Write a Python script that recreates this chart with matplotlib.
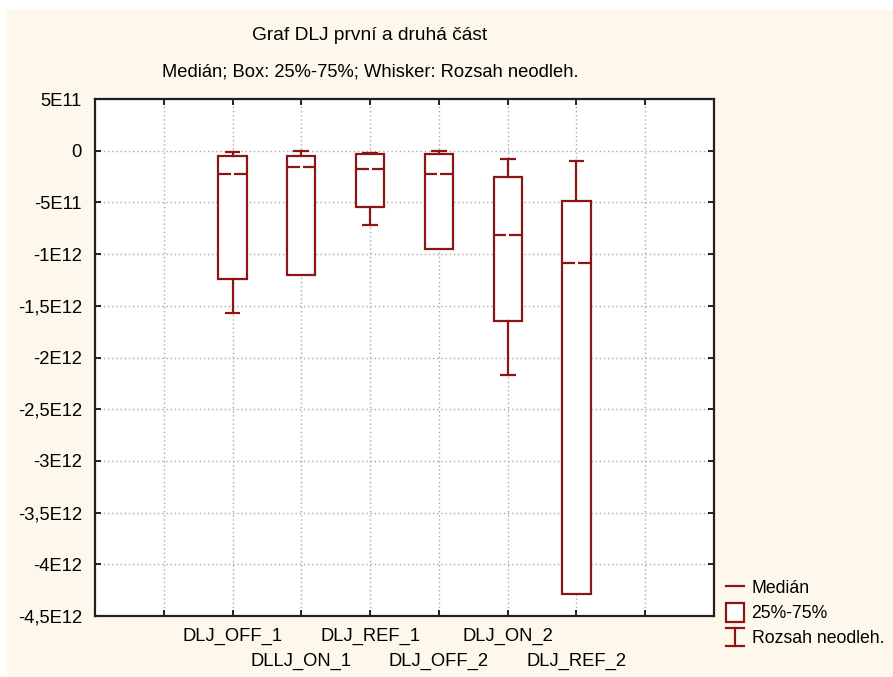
import matplotlib
matplotlib.use("Agg")
import matplotlib.pyplot as plt
from matplotlib.lines import Line2D
from matplotlib.patches import Rectangle
from matplotlib.legend_handler import HandlerBase

plt.rcParams['font.family'] = ['Liberation Sans', 'DejaVu Sans']

# ---- data (values in units of 1E11) ----
categories = ["DLJ_OFF_1", "DLLJ_ON_1", "DLJ_REF_1", "DLJ_OFF_2", "DLJ_ON_2", "DLJ_REF_2"]
whisker_low = [-15.7, -12.0, -7.2, -9.48, -21.7, -42.9]
q1 = [-12.4, -12.0, -5.45, -9.48, -16.5, -42.9]
median = [-2.25, -1.55, -1.74, -2.29, -8.15, -10.86]
q3 = [-0.55, -0.55, -0.36, -0.36, -2.55, -4.84]
whisker_high = [-0.17, 0.0, -0.22, 0.0, -0.8, -0.97]
scale = 1e11

yticks = [5, 0, -5, -10, -15, -20, -25, -30, -35, -40, -45]
ytick_labels = ["5E11", "0", "-5E11", "-1E12", "-1,5E12", "-2E12", "-2,5E12",
                "-3E12", "-3,5E12", "-4E12", "-4,5E12"]

title = "Graf DLJ první a druhá část"
subtitle = "Medián; Box: 25%-75%; Whisker: Rozsah neodleh."
legend_labels = ["Medián", "25%-75%", "Rozsah neodleh."]

RED = "#8c1515"
CREAM = "#fef8ec"
FS = 13.2

fig = plt.figure(figsize=(8.93, 6.77), dpi=100, facecolor="white")
fig.patches.append(Rectangle((7 / 893, 0), 1, 1 - 10 / 677, transform=fig.transFigure,
                             facecolor=CREAM, edgecolor="none", zorder=-10))

ax = fig.add_axes([95 / 893, 1 - 616 / 677, (714 - 95) / 893, (616 - 99) / 677])
ax.set_facecolor("white")

positions = list(range(2, 2 + len(categories)))
bw = 0.41
cw = 0.23
gap = 0.045
lw = 1.6

for i, x in enumerate(positions):
    lo, a, m, b, hi = [v * scale for v in (whisker_low[i], q1[i], median[i], q3[i], whisker_high[i])]
    ax.add_patch(Rectangle((x - bw / 2, a), bw, b - a, facecolor="white",
                           edgecolor=RED, linewidth=lw, zorder=3))
    ax.plot([x - bw / 2, x - gap / 2], [m, m], color=RED, lw=lw, zorder=4, solid_capstyle="butt")
    ax.plot([x + gap / 2, x + bw / 2], [m, m], color=RED, lw=lw, zorder=4, solid_capstyle="butt")
    if hi > b:
        ax.plot([x, x], [b, hi], color=RED, lw=lw, zorder=3)
    ax.plot([x - cw / 2, x + cw / 2], [hi, hi], color=RED, lw=lw, zorder=3, solid_capstyle="butt")
    if lo < a:
        ax.plot([x, x], [lo, a], color=RED, lw=lw, zorder=3)
        ax.plot([x - cw / 2, x + cw / 2], [lo, lo], color=RED, lw=lw, zorder=3, solid_capstyle="butt")

ax.set_xlim(0, len(categories) + 3)
ax.set_ylim(-45 * scale, 5 * scale)
ax.set_xticks(range(1, len(categories) + 3))
ax.set_xticklabels([])
ax.set_yticks([v * scale for v in yticks])
ax.set_yticklabels(ytick_labels, fontsize=FS)
ax.tick_params(direction="in", length=4, width=1.2, top=True, right=True, pad=9.5)
ax.grid(True, color="#a8a8a8", linestyle=(0, (1, 2)), linewidth=1.0, zorder=0)
ax.set_axisbelow(True)
for s in ax.spines.values():
    s.set_linewidth(1.6)
    s.set_color("#202020")

for i, (x, lab) in enumerate(zip(positions, categories)):
    yoff = -0.04 if i % 2 == 0 else -0.088
    ax.text(x, yoff, lab, transform=ax.get_xaxis_transform(), ha="center", va="center",
            fontsize=FS)

fig.text(370 / 893, 1 - 35 / 677, title, ha="center", va="center", fontsize=FS + 0.6)
fig.text(370 / 893, 1 - 72 / 677, subtitle, ha="center", va="center", fontsize=FS)


class WhiskerHandler(HandlerBase):
    def create_artists(self, legend, orig_handle, xdescent, ydescent, width, height,
                       fontsize, trans):
        cx = width / 2 - xdescent
        y0, y1 = -ydescent, height - ydescent
        hw = width / 2
        arts = [Line2D([cx, cx], [y0, y1]),
                Line2D([cx - hw, cx + hw], [y0, y0]),
                Line2D([cx - hw, cx + hw], [y1, y1])]
        for a in arts:
            a.set_color(RED)
            a.set_linewidth(lw)
            a.set_transform(trans)
        return arts


class WhiskerKey:
    pass


h_med = Line2D([], [], color=RED, lw=lw)
h_box = Rectangle((0, 0), 1, 1, facecolor="white", edgecolor=RED, linewidth=lw)
h_wh = WhiskerKey()
fig.legend([h_med, h_box, h_wh], legend_labels, handler_map={WhiskerKey: WhiskerHandler()},
           loc="upper left", bbox_to_anchor=(726 / 893, 1 - 578 / 677), frameon=False,
           fontsize=FS - 0.5, handlelength=1.0, handleheight=1.25, handletextpad=0.45,
           labelspacing=0.32, borderpad=0, borderaxespad=0)

fig.savefig("out.png", dpi=100, facecolor=fig.get_facecolor())
